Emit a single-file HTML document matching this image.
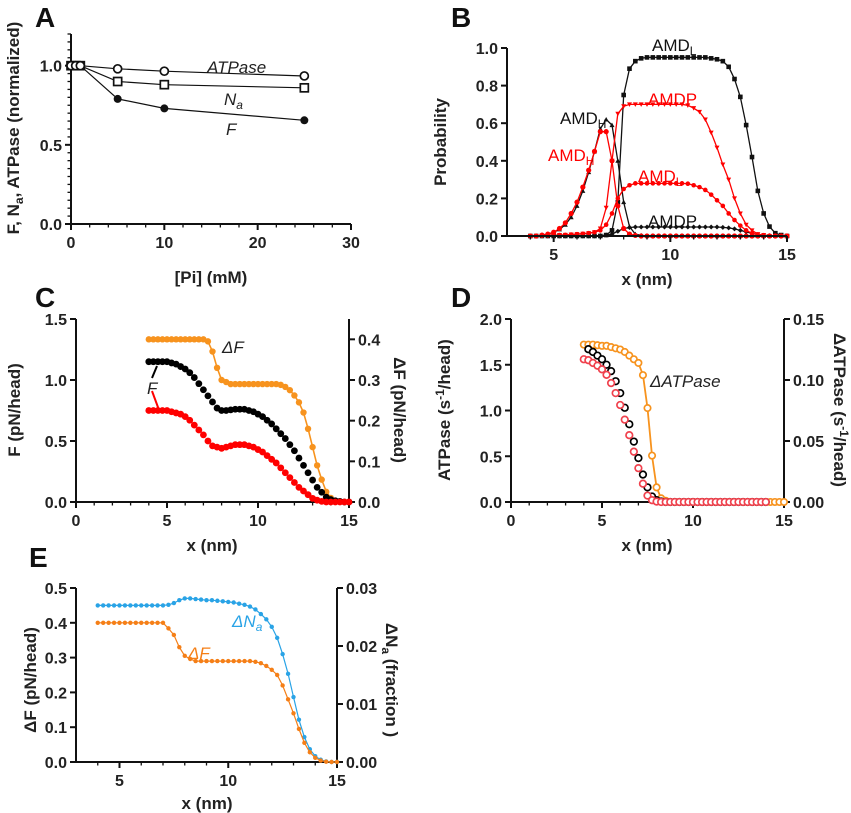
<!DOCTYPE html>
<html><head><meta charset="utf-8">
<style>
html,body{margin:0;padding:0;background:#fff;}
svg{display:block;font-family:"Liberation Sans",Arial,sans-serif;}
.tl{font-size:16px;font-weight:bold;fill:#222;}
.tt{font-size:17px;font-weight:bold;fill:#222;}
.pl{font-size:28px;font-weight:bold;fill:#111;}
.lb{font-size:17px;}
</style></head>
<body>
<svg id="fig" width="851" height="813" viewBox="0 0 851 813">
<text class="pl" x="35" y="27">A</text>
<text class="pl" x="451" y="27">B</text>
<text class="pl" x="35" y="307">C</text>
<text class="pl" x="451" y="307">D</text>
<text class="pl" x="29" y="567">E</text>
<text class="tt" transform="translate(19,128) rotate(-90)" text-anchor="middle">F, N<tspan font-size="12" dy="4">a</tspan><tspan dy="-4">, ATPase (normalized)</tspan></text>
<text class="tt" x="211" y="283" text-anchor="middle">[Pi] (mM)</text>
<text class="tt" transform="translate(446,142) rotate(-90)" text-anchor="middle">Probability</text>
<text class="tt" x="647" y="285" text-anchor="middle">x (nm)</text>
<text class="tt" transform="translate(20,410) rotate(-90)" text-anchor="middle">F (pN/head)</text>
<text class="tt" transform="translate(394,410) rotate(90)" text-anchor="middle">ΔF (pN/head)</text>
<text class="tt" x="212" y="551" text-anchor="middle">x (nm)</text>
<text class="tt" transform="translate(450,410) rotate(-90)" text-anchor="middle">ATPase (s<tspan font-size="12" dy="-6">-1</tspan><tspan dy="6">/head)</tspan></text>
<text class="tt" transform="translate(834,410) rotate(90)" text-anchor="middle">ΔATPase (s<tspan font-size="12" dy="-6">-1</tspan><tspan dy="6">/head)</tspan></text>
<text class="tt" x="647" y="551" text-anchor="middle">x (nm)</text>
<text class="tt" transform="translate(36,680) rotate(-90)" text-anchor="middle">ΔF (pN/head)</text>
<text class="tt" transform="translate(386,680) rotate(90)" text-anchor="middle">ΔN<tspan font-size="12" dy="4">a</tspan><tspan dy="-4"> (fraction )</tspan></text>
<text class="tt" x="207" y="809" text-anchor="middle">x (nm)</text>
<text class="lb" x="207" y="73" font-style="italic" fill="#222">ATPase</text>
<text class="lb" x="224" y="105" font-style="italic" fill="#222">N<tspan font-size="12" dy="4">a</tspan></text>
<text class="lb" x="226" y="135" font-style="italic" fill="#222">F</text>
<text class="lb" x="652" y="51" fill="#111">AMD<tspan font-size="12" dy="4">L</tspan></text>
<text class="lb" x="648" y="105" fill="#f00">AMDP</text>
<text class="lb" x="560" y="124" fill="#111">AMD<tspan font-size="12" dy="4">H</tspan></text>
<text class="lb" x="548" y="161" fill="#f00">AMD<tspan font-size="12" dy="4">H</tspan></text>
<text class="lb" x="638" y="182" fill="#f00">AMD<tspan font-size="12" dy="4">L</tspan></text>
<text class="lb" x="648" y="227" fill="#111">AMDP</text>
<text class="lb" x="222" y="353" font-style="italic" fill="#222">ΔF</text>
<text class="lb" x="147" y="394" font-style="italic" fill="#222">F</text>
<line x1="157" y1="366" x2="152" y2="378" stroke="#000" stroke-width="2"/>
<line x1="152" y1="391" x2="159" y2="410" stroke="#f00" stroke-width="2"/>
<text class="lb" x="650" y="387" font-style="italic" fill="#222">ΔATPase</text>
<text class="lb" x="232" y="627" font-style="italic" fill="#29a3e6">ΔN<tspan font-size="12" dy="4">a</tspan></text>
<text class="lb" x="188" y="659" font-style="italic" fill="#f57f17">ΔF</text>
</svg>
<script>
// ---- data ----
const piConc = [0, 0.5, 1, 5, 10, 25];
const aATPase = [1, 1, 1, 0.98, 0.965, 0.935];
const aNa = [1, 1, 1, 0.9, 0.88, 0.86];
const aF = [1, 1, 1, 0.79, 0.73, 0.655];

const xNm = [4,4.25,4.5,4.75,5,5.25,5.5,5.75,6,6.25,6.5,6.75,7,7.25,7.5,7.75,8,8.25,8.5,8.75,9,9.25,9.5,9.75,10,10.25,10.5,10.75,11,11.25,11.5,11.75,12,12.25,12.5,12.75,13,13.25,13.5,13.75,14,14.25,14.5,14.75,15];

const bAmdLBlack = [0,0,0,0,0,0,0,0,0,0,0,0,0,0.005,0.03,0.18,0.75,0.89,0.93,0.945,0.95,0.95,0.95,0.95,0.95,0.95,0.95,0.95,0.95,0.95,0.95,0.945,0.94,0.93,0.9,0.835,0.74,0.59,0.42,0.24,0.12,0.05,0.015,0.005,0];
const bAmdHBlack = [0,0,0.005,0.01,0.02,0.035,0.06,0.1,0.16,0.24,0.34,0.45,0.57,0.62,0.59,0.4,0.18,0.05,0.01,0.003,0,0,0,0,0,0,0,0,0,0,0,0,0,0,0,0,0,0,0,0,0,0,0,0,0];
const bAmdPBlack = [0,0,0,0,0,0,0,0,0,0,0,0,0.002,0.005,0.01,0.025,0.04,0.045,0.048,0.048,0.048,0.048,0.048,0.048,0.048,0.048,0.048,0.048,0.048,0.048,0.048,0.048,0.048,0.046,0.043,0.038,0.03,0.022,0.014,0.008,0.004,0.002,0.001,0,0];
const bAmdHRed = [0,0,0.005,0.01,0.02,0.04,0.07,0.12,0.18,0.26,0.35,0.45,0.555,0.555,0.4,0.16,0.04,0.01,0.003,0,0,0,0,0,0,0,0,0,0,0,0,0,0,0,0,0,0,0,0,0,0,0,0,0,0];
const bAmdPRed = [0,0,0.002,0.003,0.004,0.005,0.006,0.008,0.01,0.012,0.015,0.02,0.04,0.15,0.4,0.65,0.69,0.7,0.7,0.7,0.7,0.7,0.7,0.7,0.7,0.7,0.7,0.695,0.68,0.66,0.62,0.55,0.47,0.38,0.3,0.2,0.12,0.06,0.03,0.01,0.005,0,0,0,0];
const bAmdLRed = [0,0,0.002,0.003,0.004,0.005,0.006,0.008,0.01,0.012,0.015,0.02,0.03,0.06,0.12,0.2,0.25,0.27,0.28,0.28,0.28,0.28,0.28,0.28,0.28,0.28,0.28,0.278,0.27,0.26,0.245,0.22,0.19,0.16,0.12,0.085,0.055,0.03,0.015,0.006,0.002,0,0,0,0];

const cFBlack = [1.15,1.15,1.15,1.15,1.15,1.14,1.13,1.11,1.09,1.06,1.02,0.97,0.92,0.87,0.82,0.77,0.75,0.75,0.755,0.76,0.76,0.76,0.75,0.74,0.72,0.7,0.67,0.64,0.6,0.56,0.52,0.47,0.42,0.36,0.3,0.24,0.18,0.12,0.08,0.04,0.02,0.01,0.005,0,0];
const cFRed = [0.75,0.75,0.75,0.75,0.75,0.74,0.73,0.72,0.7,0.67,0.63,0.59,0.55,0.5,0.46,0.45,0.44,0.45,0.46,0.47,0.47,0.47,0.46,0.45,0.43,0.41,0.38,0.35,0.32,0.28,0.24,0.2,0.16,0.12,0.09,0.06,0.03,0.015,0.005,0,0,0,0,0,0];
const cDeltaF = [0.4,0.4,0.4,0.4,0.4,0.4,0.4,0.4,0.4,0.4,0.4,0.4,0.4,0.395,0.37,0.33,0.3,0.295,0.29,0.29,0.29,0.29,0.29,0.29,0.29,0.29,0.29,0.29,0.29,0.288,0.283,0.275,0.262,0.245,0.22,0.18,0.135,0.09,0.055,0.025,0.01,0.003,0.001,0,0];

const dATPaseBlack = [null,1.67,1.64,1.6,1.56,1.5,1.43,1.32,1.19,1.03,0.85,0.66,0.48,0.3,0.16,0.06,0.02,0.005,0,0,0,0,0,0,0,0,0,0,0,0,0,0,0,0,0,0,0,0,0,0,0,null,null,null,null];
const dATPaseRed = [1.56,1.55,1.52,1.49,1.45,1.39,1.3,1.19,1.06,0.9,0.73,0.55,0.37,0.2,0.07,0.02,0.005,0,0,0,0,0,0,0,0,0,0,0,0,0,0,0,0,0,0,0,0,0,0,0,0,null,null,null,null];
const dDeltaATPase = [0.129,0.129,0.129,0.1285,0.128,0.128,0.127,0.126,0.125,0.123,0.12,0.117,0.114,0.104,0.077,0.038,0.012,0.003,0.001,0,0,0,0,0,0,0,0,0,0,0,0,0,0,0,0,0,0,0,0,0,0,0,0,0,0];

const eDeltaNa = [0.027,0.027,0.027,0.027,0.027,0.027,0.027,0.027,0.027,0.027,0.027,0.027,0.027,0.0271,0.0274,0.0279,0.0282,0.0282,0.0281,0.028,0.0279,0.0279,0.0278,0.0277,0.0276,0.0275,0.0273,0.0271,0.0268,0.0263,0.0255,0.0246,0.0233,0.0214,0.0186,0.0152,0.0112,0.0073,0.0043,0.0022,0.001,0.0004,0.0001,0,0];
const eDeltaF = [0.4,0.4,0.4,0.4,0.4,0.4,0.4,0.4,0.4,0.4,0.4,0.4,0.4,0.384,0.365,0.33,0.305,0.296,0.29,0.29,0.29,0.29,0.29,0.29,0.29,0.29,0.29,0.29,0.29,0.288,0.284,0.276,0.265,0.25,0.22,0.18,0.14,0.095,0.055,0.028,0.012,0.004,0.001,0,0];

// ---- helpers ----
const NS = 'http://www.w3.org/2000/svg';
const svg = document.getElementById('fig');
function el(tag, parent) { const e = document.createElementNS(NS, tag); parent.appendChild(e); return e; }
function lin(d0, d1, r0, r1) { return v => r0 + (v - d0) * (r1 - r0) / (d1 - d0); }
function group(name) {
  const g = el('g', svg);
  
  
  return g;
}
function line(g, x1, y1, x2, y2, w) {
  const l = el('line', g);
  l.setAttribute('x1', x1); l.setAttribute('y1', y1); l.setAttribute('x2', x2); l.setAttribute('y2', y2);
  l.setAttribute('stroke', '#111'); l.setAttribute('stroke-width', w);
  return l;
}
function label(g, x, y, txt, anchor) {
  const t = el('text', g);
  t.setAttribute('x', x); t.setAttribute('y', y); t.setAttribute('class', 'tl');
  t.setAttribute('text-anchor', anchor);
  t.textContent = txt;
  return t;
}
function yAxis(name, x, sy, lo, hi, majors, minors, dec, side) {
  const g = group(name);
  const ax = line(g, x, sy(lo), x, sy(hi), 2);
  
  
  const dir = side === 'right' ? 1 : -1;
  minors.forEach(v => line(g, x, sy(v), x + dir * 3.5, sy(v), 1.3));
  majors.forEach(v => {
    line(g, x, sy(v), x + dir * 6, sy(v), 2);
    const t = label(g, x + dir * 9, sy(v) + 6, v.toFixed(dec), side === 'right' ? 'start' : 'end');
    
    
  });
}
function xAxis(name, y, sx, lo, hi, majors, minors) {
  const g = group(name);
  const ax = line(g, sx(lo), y, sx(hi), y, 2);
  
  
  minors.forEach(v => line(g, sx(v), y, sx(v), y + 3.5, 1.3));
  majors.forEach(v => {
    line(g, sx(v), y, sx(v), y + 6, 2);
    const t = label(g, sx(v), y + 24, String(v), 'middle');
    
    
  });
}
function marker(g, type, x, y, size, color) {
  let m;
  if (type === 'circle' || type === 'ocircle') {
    m = el('circle', g); m.setAttribute('cx', x); m.setAttribute('cy', y); m.setAttribute('r', size);
  } else if (type === 'square' || type === 'osquare') {
    m = el('rect', g); m.setAttribute('x', x - size); m.setAttribute('y', y - size);
    m.setAttribute('width', 2 * size); m.setAttribute('height', 2 * size);
  } else if (type === 'tri') {
    m = el('path', g); m.setAttribute('d', `M${x},${y - size}L${x + size},${y + size * 0.8}L${x - size},${y + size * 0.8}Z`);
  } else if (type === 'dtri') {
    m = el('path', g); m.setAttribute('d', `M${x},${y + size}L${x + size},${y - size * 0.8}L${x - size},${y - size * 0.8}Z`);
  } else {
    m = el('path', g); m.setAttribute('d', `M${x},${y - size}L${x + size},${y}L${x},${y + size}L${x - size},${y}Z`);
  }
  if (type[0] === 'o') { m.setAttribute('fill', '#fff'); m.setAttribute('stroke', color); m.setAttribute('stroke-width', 1.7); }
  else m.setAttribute('fill', color);
  return m;
}
function series(name, xs, ys, sx, sy, color, type, size, lw) {
  const g = group(name);
  const pts = [];
  xs.forEach((xv, i) => { if (ys[i] !== null && ys[i] !== undefined) pts.push([sx(xv), sy(ys[i])]); });
  if (lw > 0) {
    const p = el('path', g);
    p.setAttribute('d', 'M' + pts.map(q => q[0].toFixed(1) + ',' + q[1].toFixed(1)).join('L'));
    p.setAttribute('fill', 'none'); p.setAttribute('stroke', color); p.setAttribute('stroke-width', lw);
    
    
  }
  pts.forEach(q => {
    const m = marker(g, type, q[0], q[1], size, color);
    
    
  });
}
function range(a, b, s) { const r = []; for (let v = a; v <= b + 1e-9; v += s) r.push(+v.toFixed(4)); return r; }

// ---- Panel A ----
const aX = lin(0, 30, 71, 351), aY = lin(0, 1.2, 224, 34);
yAxis('a-y-axis', 71, aY, 0, 1.2, [0, 0.5, 1.0], range(0, 1.2, 0.05), 1, 'left');
xAxis('a-x-axis', 224, aX, 0, 30, [0, 10, 20, 30], range(0, 30, 2));
series('a-series-f', piConc, aF, aX, aY, '#111', 'circle', 4, 1.2);
series('a-series-na', piConc, aNa, aX, aY, '#111', 'osquare', 4, 1.2);
series('a-series-atpase', piConc, aATPase, aX, aY, '#111', 'ocircle', 4, 1.2);

// ---- Panel B ----
const bX = lin(3, 15, 507, 787), bY = lin(0, 1, 236, 48);
series('b-series-amdp-black', xNm, bAmdPBlack, bX, bY, '#111', 'diamond', 2.5, 1.3);
series('b-series-amdh-black', xNm, bAmdHBlack, bX, bY, '#111', 'tri', 2.5, 1.3);
series('b-series-amdl-black', xNm, bAmdLBlack, bX, bY, '#111', 'square', 2.3, 1.3);
series('b-series-amdl-red', xNm, bAmdLRed, bX, bY, '#f00', 'circle', 2.3, 1.3);
series('b-series-amdp-red', xNm, bAmdPRed, bX, bY, '#f00', 'dtri', 2.5, 1.3);
series('b-series-amdh-red', xNm, bAmdHRed, bX, bY, '#f00', 'circle', 2.6, 1.3);
yAxis('b-y-axis', 507, bY, 0, 1, [0, 0.2, 0.4, 0.6, 0.8, 1.0], [], 1, 'left');
xAxis('b-x-axis', 236, bX, 3, 15, [5, 10, 15], range(4, 15, 1));

// ---- Panel C ----
const cX = lin(0, 15, 76, 349), cY = lin(0, 1.5, 502, 319), cY2 = lin(0, 0.45, 502, 319);
yAxis('c-y-axis', 76, cY, 0, 1.5, [0, 0.5, 1.0, 1.5], [], 1, 'left');
yAxis('c-right-y-axis', 349, cY2, 0, 0.45, [0, 0.1, 0.2, 0.3, 0.4], [], 1, 'right');
xAxis('c-x-axis', 502, cX, 0, 15, [0, 5, 10, 15], range(0, 15, 1));
series('c-series-delta-f', xNm, cDeltaF, cX, cY2, '#f7931e', 'circle', 3.2, 1.6);
series('c-series-f-black', xNm, cFBlack, cX, cY, '#000', 'circle', 3.4, 0);
series('c-series-f-red', xNm, cFRed, cX, cY, '#f00', 'circle', 3.4, 0);

// ---- Panel D ----
const dX = lin(0, 15, 511, 784), dY = lin(0, 2, 502, 319), dY2 = lin(0, 0.15, 502, 319);
yAxis('d-y-axis', 511, dY, 0, 2, [0, 0.5, 1.0, 1.5, 2.0], [], 1, 'left');
yAxis('d-right-y-axis', 784, dY2, 0, 0.15, [0, 0.05, 0.1, 0.15], [], 2, 'right');
xAxis('d-x-axis', 502, dX, 0, 15, [0, 5, 10, 15], range(0, 15, 1));
series('d-series-delta-atpase', xNm, dDeltaATPase, dX, dY2, '#f7931e', 'ocircle', 3.2, 1.8);
series('d-series-atpase-black', xNm, dATPaseBlack, dX, dY, '#000', 'ocircle', 3.3, 0);
series('d-series-atpase-red', xNm, dATPaseRed, dX, dY, '#f0414d', 'ocircle', 3.3, 0);

// ---- Panel E ----
const eX = lin(3, 15, 76, 337), eY = lin(0, 0.5, 762, 588), eY2 = lin(0, 0.03, 762, 588);
yAxis('e-y-axis', 76, eY, 0, 0.5, [0, 0.1, 0.2, 0.3, 0.4, 0.5], [], 1, 'left');
yAxis('e-right-y-axis', 337, eY2, 0, 0.03, [0, 0.01, 0.02, 0.03], [], 2, 'right');
xAxis('e-x-axis', 762, eX, 3, 15, [5, 10, 15], range(4, 15, 1));
series('e-series-delta-na', xNm, eDeltaNa, eX, eY2, '#29a3e6', 'circle', 2.2, 1.2);
series('e-series-delta-f', xNm, eDeltaF, eX, eY, '#f57f17', 'circle', 2.2, 1.2);
</script>
</body></html>
